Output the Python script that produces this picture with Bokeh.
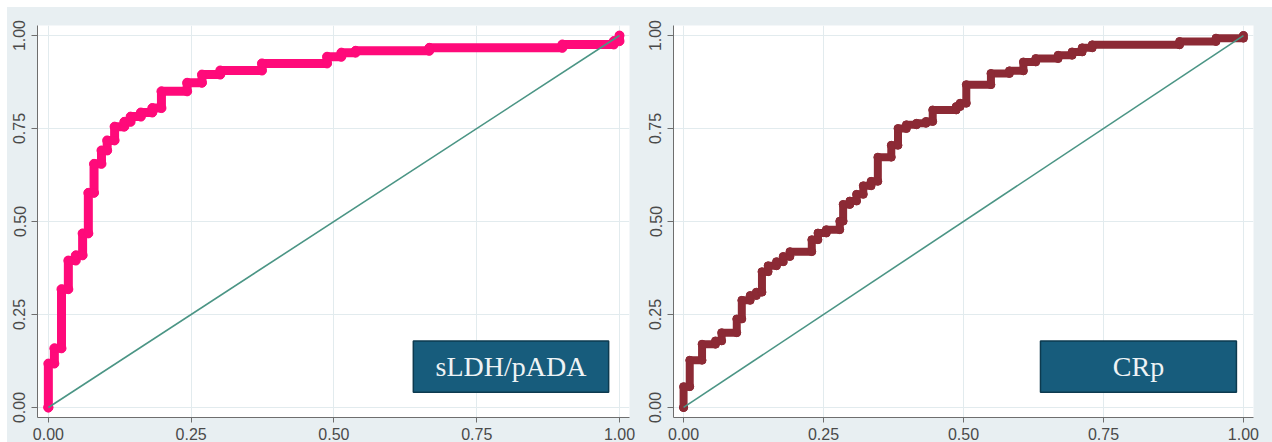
from bokeh.plotting import figure
from bokeh.layouts import row
from bokeh.models import Range1d, FixedTicker, NumeralTickFormatter
from bokeh.core.properties import value
from bokeh.embed import file_html
from bokeh.resources import INLINE

# ---- data: ROC step points (false positive rate where the jump occurs, sensitivity after jump)
ldh_fpr = [0.0, 0.0105, 0.023, 0.035, 0.048, 0.060, 0.070, 0.080, 0.093, 0.103,
           0.116, 0.133, 0.144, 0.162, 0.182, 0.198, 0.243, 0.269, 0.301, 0.374,
           0.488, 0.513, 0.538, 0.667, 0.900, 0.990, 1.0]
ldh_tpr = [0.118, 0.159, 0.318, 0.395, 0.409, 0.468, 0.577, 0.655, 0.691, 0.718,
           0.755, 0.768, 0.782, 0.793, 0.805, 0.850, 0.873, 0.895, 0.906, 0.925,
           0.943, 0.954, 0.959, 0.967, 0.976, 0.985, 1.0]

crp_fpr = [0.0, 0.011, 0.033, 0.057, 0.068, 0.095, 0.104, 0.119, 0.130, 0.140,
           0.151, 0.166, 0.178, 0.190, 0.229, 0.240, 0.255, 0.279, 0.285, 0.297,
           0.309, 0.321, 0.335, 0.347, 0.371, 0.383, 0.398, 0.416, 0.433, 0.445,
           0.487, 0.494, 0.505, 0.549, 0.582, 0.607, 0.629, 0.669, 0.694, 0.712,
           0.730, 0.886, 0.951, 1.0]
crp_tpr = [0.056, 0.127, 0.170, 0.179, 0.201, 0.238, 0.288, 0.301, 0.310, 0.365,
           0.381, 0.392, 0.406, 0.419, 0.451, 0.469, 0.478, 0.501, 0.546, 0.555,
           0.573, 0.596, 0.608, 0.673, 0.705, 0.750, 0.760, 0.764, 0.769, 0.800,
           0.809, 0.818, 0.868, 0.898, 0.905, 0.929, 0.938, 0.947, 0.956, 0.967,
           0.975, 0.984, 0.993, 1.0]

ticks = [0.0, 0.25, 0.5, 0.75, 1.0]
ref_x = [0.0, 1.0]
ref_y = [0.0, 1.0]

BG = "#e8eff2"
FONT = "Liberation Sans"


def staircase(fpr, tpr):
    xs, ys = [0.0], [0.0]
    for x, y in zip(fpr, tpr):
        xs += [x, x]
        ys += [ys[-1], y]
    return xs, ys


def panel(fpr, tpr, color, lw, label, box_x, xr, width, left_border, right_border):
    p = figure(width=width, height=435, output_backend="svg", toolbar_location=None,
               x_range=Range1d(*xr), y_range=Range1d(-0.027, 1.027),
               min_border_left=left_border, min_border_right=right_border,
               min_border_top=18, min_border_bottom=0)
    p.border_fill_color = BG
    p.background_fill_color = "white"
    p.outline_line_color = None
    for ax in (p.xaxis[0], p.yaxis[0]):
        ax.ticker = FixedTicker(ticks=ticks)
        ax.formatter = NumeralTickFormatter(format="0.00")
        ax.axis_line_color = "#6e6e6e"
        ax.major_tick_line_color = "#6e6e6e"
        ax.minor_tick_line_color = None
        ax.major_tick_in = 0
        ax.major_label_text_font = FONT
        ax.major_label_text_font_size = "16px"
        ax.major_label_text_color = "#4a4a4a"
    p.xaxis.major_tick_out = 5
    p.xaxis.major_label_standoff = 5
    p.yaxis.major_tick_out = 6
    p.yaxis.major_label_standoff = 6
    p.yaxis.major_label_orientation = "vertical"
    p.grid.grid_line_color = "#e2ebee"
    p.grid.grid_line_width = 1

    xs, ys = staircase(fpr, tpr)
    p.line(xs, ys, line_color=color, line_width=lw, line_join="round", line_cap="round")
    p.scatter(xs, ys, marker="circle", size=lw, fill_color=color, line_color=color)
    p.line(ref_x, ref_y, line_color="#4b9585", line_width=1.6)

    p.quad(left=box_x[0], right=box_x[1], bottom=0.041, top=0.179,
           fill_color="#175c7c", line_color="#0d3a4f", line_width=1.5)
    p.text(x=[(box_x[0] + box_x[1]) / 2], y=[0.11], text=[label],
           text_font=value("Liberation Serif"), text_font_size="28px",
           text_color="#eef3f5", text_align="center", text_baseline="middle")
    return p


p1 = panel(ldh_fpr, ldh_tpr, "#ff0a7a", 9, "sLDH/pADA", (0.639, 0.981),
           (-0.019, 1.0175), 629, 30, 7)
p2 = panel(crp_fpr, crp_tpr, "#8c2a35", 8, "CRp", (0.6375, 0.9875),
           (-0.018, 1.018), 636, 37, 19)

layout = row(p1, p2, spacing=0, margin=(7, 0, 0, 7),
             styles={"background-color": BG})
open("out.html", "w").write(file_html(layout, INLINE))
